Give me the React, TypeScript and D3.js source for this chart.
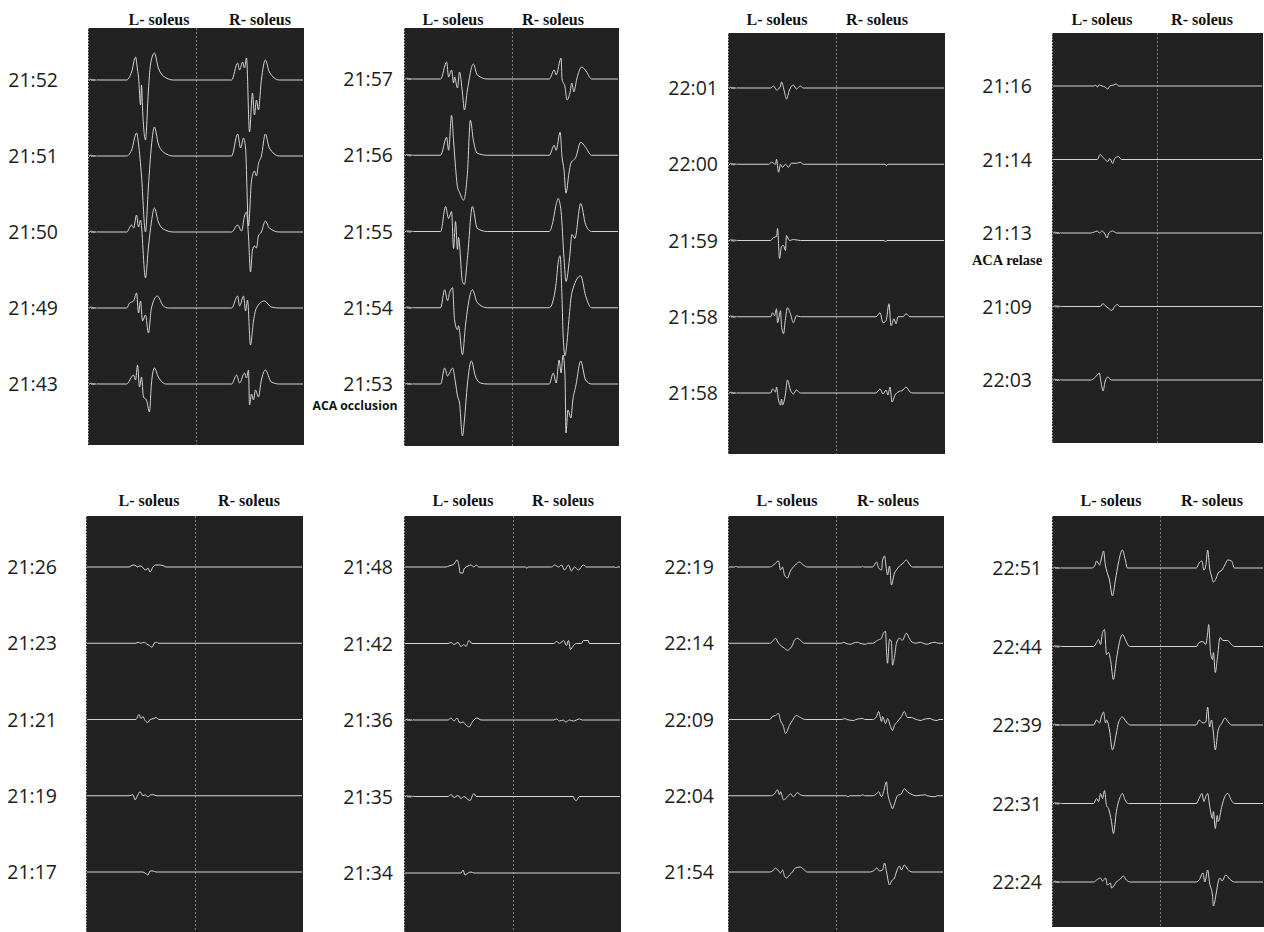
import React from 'react';
import * as d3 from 'd3';

type Pt = [number, number];

// Each half of a panel is one sweep of HALF_MS; amplitudes are in display units (~1px each).
const HALF_MS = 108;
const AMP_MAX = 100;

// small stimulus artefact seen at the very start of many sweeps
const preNoise: Pt[] = [[1, 0], [2, 1.2], [3, -0.8], [4, 1], [5, -1], [6, 0.8], [7, -0.6], [8, 0.4], [9, 0]];

const muscles = ['L- soleus', 'R- soleus'];

// ---- panel 1 ----
const p1Times = ['21:52', '21:51', '21:50', '21:49', '21:43'];
const p1Noise = [true, true, true, true, true];
const p1Left: Pt[][] = [
  [[38, 0], [43, 8], [47, 23], [49, 10], [50, 3], [52, -25], [53, -5], [54, -28], [57, -60], [60, -10], [62, 15], [66, 27], [70, 12], [75, 4], [85, 0]],
  [[38, 0], [43, 6], [48, 23], [50, 12], [53, -20], [57, -76], [60, -30], [63, 10], [66, 29], [70, 12], [75, 4], [85, 0]],
  [[38, 0], [43, 7], [45, 4], [48, 17], [50, 5], [52, 12], [57, -46], [60, -15], [63, 10], [66, 24], [70, 10], [75, 3], [85, 0]],
  [[38, 0], [41, 5], [45, 7], [48, 15], [50, -5], [52, 7], [54, -13], [57, -7], [60, -25], [63, 0], [69, 12], [75, 2], [80, 0]],
  [[38, 0], [45, 9], [47, 4], [49, 19], [51, -3], [53, 7], [55, -13], [58, -16], [61, -28], [63, 0], [66, 16], [70, 7], [78, 0]],
];
const p1Right: Pt[][] = [
  [[36, 0], [42, 17], [44, 10], [47, 18], [49, 12], [51, 22], [54, -52], [57, -13], [59, -35], [61, -20], [63, -30], [66, 0], [70, 20], [74, 8], [84, 0]],
  [[36, 0], [42, 22], [45, 8], [48, 18], [50, 8], [53, -70], [56, -25], [59, -15], [61, -20], [63, -8], [66, 0], [70, 22], [74, 8], [84, 0]],
  [[36, 0], [42, 7], [46, 1], [49, 16], [51, 20], [53, -5], [55, -40], [57, -18], [59, -14], [61, -16], [63, -4], [66, 0], [70, 11], [74, 4], [84, 0]],
  [[36, 0], [42, 12], [44, 2], [48, 12], [50, -3], [52, 8], [55, -37], [58, -13], [61, 0], [69, 7], [76, 1], [84, 0]],
  [[36, 0], [41, 9], [44, 1], [49, 11], [51, 6], [53, 14], [54, -21], [56, -10], [58, -16], [60, -6], [63, -13], [66, 4], [70, 14], [76, 2], [84, 0]],
];

// ---- panel 2 ----
const p2Times = ['21:57', '21:56', '21:55', '21:54', '21:53'];
const p2Noise = [true, true, true, true, true];
const p2Left: Pt[][] = [
  [[36, 0], [42, 17], [44, 2], [47, 9], [49, -4], [50, 2], [53, -9], [55, 7], [58, -14], [60, -31], [63, -11], [69, 15], [73, 4], [83, 0]],
  [[36, 0], [42, 18], [44, 5], [47, 40], [49, 15], [51, -12], [53, -32], [55, -37], [57, -42], [59, -45], [63, -18], [66, 35], [69, 15], [73, 2], [83, 0]],
  [[36, 0], [41, 25], [44, 13], [47, 20], [49, -17], [51, 10], [53, -18], [54, -6], [58, -50], [60, -53], [63, -27], [68, 25], [73, 3], [83, 0]],
  [[36, 0], [40, 18], [43, 7], [45, 15], [48, 20], [50, -12], [53, -22], [54, -18], [58, -47], [61, -18], [68, 18], [73, 5], [83, 0]],
  [[36, 0], [40, 16], [43, 8], [45, 11], [48, 16], [51, 1], [53, -12], [55, -19], [58, -52], [60, -36], [63, 0], [67, 23], [71, 8], [76, 1], [83, 0]],
];
const p2Right: Pt[][] = [
  [[38, 0], [43, 9], [45, 4], [50, 21], [51, 0], [54, -8], [56, -21], [59, -14], [61, -4], [63, -13], [66, 0], [71, 12], [76, 7], [81, 0]],
  [[38, 0], [43, 10], [45, 5], [49, 23], [51, -2], [53, -15], [55, -38], [58, -18], [60, -8], [65, -2], [70, 13], [75, 8], [81, 0]],
  [[38, 0], [41, 7], [45, 27], [47, 33], [50, 20], [53, -27], [55, -50], [59, -23], [61, -3], [64, -7], [70, 28], [75, 7], [81, 0]],
  [[38, 0], [43, 12], [45, 25], [47, 45], [49, 52], [51, 8], [52, -25], [54, -48], [56, -35], [58, -12], [61, 15], [70, 32], [75, 12], [81, 0]],
  [[38, 0], [42, 11], [45, 1], [48, 24], [50, 11], [52, 29], [54, 8], [55, -49], [57, -26], [60, -34], [62, -16], [65, -2], [70, 23], [75, 4], [81, 0]],
];

// ---- panel 3 ----
const p3Times = ['22:01', '22:00', '21:59', '21:58', '21:58'];
const p3Noise = [true, true, true, true, true];
const p3Left: Pt[][] = [
  [[42, 0], [45, 2], [48, -2], [52, 2], [53, 6], [56, -4], [58, -11], [61, -2], [65, 3], [68, -1], [72, 2], [75, 0]],
  [[40, 0], [43, 2], [47, 0], [48, 5], [50, -8], [52, 0], [54, -3], [57, 0], [60, -3], [63, 1], [68, 1], [72, 2], [75, 0]],
  [[42, 0], [45, 3], [48, 4], [49, 12], [51, -18], [53, -6], [55, -5], [57, -10], [58, 5], [61, 0], [65, 1], [72, 0]],
  [[42, 0], [44, 4], [46, 1], [48, 8], [49, -6], [52, 6], [53, -9], [55, -17], [57, -2], [59, 9], [62, 3], [65, -6], [68, 1], [72, 0]],
  [[42, 0], [44, 4], [47, 1], [48, 6], [50, -7], [52, -12], [53, -6], [54, -12], [57, -1], [59, 13], [62, 3], [65, -1], [68, 3], [72, 0]],
];
const p3Right: Pt[][] = [
  [],
  [[49, 0], [50.5, -1.5], [52, 0]],
  [[48, 0], [49.5, -1], [51, 0]],
  [[40, 0], [44, 4], [47, -6], [50, -4], [53, 13], [55, -9], [58, -2], [60, -7], [62, 0], [67, 0], [70, 3], [74, 0]],
  [[40, 0], [44, 4], [47, -1], [50, 3], [52, -2], [54, 6], [56, -9], [59, -2], [62, 1], [67, 3], [70, 6], [74, 1], [77, 0]],
];

// ---- panel 4 ----
const p4Times = ['21:16', '21:14', '21:13', '21:09', '22:03'];
const p4Noise = [false, false, true, true, true];
const p4Left: Pt[][] = [
  [[43, 0], [44, 1], [46, -1], [48, 1], [51, 0], [54, -1], [57, -3], [59, 0], [63, 1], [66, 2], [68, 0]],
  [[46, 0], [49, 5], [52, 2], [54, 0], [57, -2], [59, 1], [62, -4], [64, 1], [68, 3], [71, 0]],
  [[39, 0], [43, 1], [46, 2], [48, 0], [51, 2], [54, -1], [56, -5], [58, 0], [62, 2], [64, 1], [66, 0]],
  [[49, 0], [52, 3], [54, 1], [58, -2], [61, -4], [64, 0], [67, 2], [69, 0]],
  [[39, 0], [43, 2], [46, 5], [48, 7], [50, -3], [52, -11], [54, -2], [57, 3], [59, 1], [61, 0]],
];
const p4Right: Pt[][] = [[], [], [], [], []];

// ---- panel 5 ----
const p5Times = ['21:26', '21:23', '21:21', '21:19', '21:17'];
const p5Noise = [false, false, false, false, false];
const p5Left: Pt[][] = [
  [[42, 0], [46, 2], [47, 2], [51, 0], [52, 1], [54, 1], [57, -2], [59, -3], [61, -1], [63, -5], [66, 0], [69, 2], [73, 2], [77, 1], [79, 0]],
  [[49, 0], [51, 1], [54, 0], [57, 1], [60, -1], [62, -2], [65, -4], [67, 0], [70, 1], [71, 0]],
  [[49, 0], [52, 5], [54, 1], [56, 3], [58, -1], [61, -3], [63, 0], [67, 1], [69, 2], [72, 0]],
  [[42, 0], [46, 1], [48, -4], [51, 1], [53, 4], [56, 0], [58, 1], [61, -1], [64, 1], [67, 1], [69, 0]],
  [[56, 0], [58, -1], [61, -3], [63, 1], [66, 1], [69, 0]],
];
const p5Right: Pt[][] = [[], [], [], [], []];

// ---- panel 6 ----
const p6Times = ['21:48', '21:42', '21:36', '21:35', '21:34'];
const p6Noise = [false, false, true, true, false];
const p6Left: Pt[][] = [
  [[41, 0], [44, 1], [47, 2], [49, 3], [52, 7], [54, 1], [55, -6], [58, -6], [59, -2], [63, 1], [66, 2], [69, 0], [71, 2], [74, 0]],
  [[43, 0], [46, 1], [49, -1], [53, 1], [56, -3], [59, -1], [61, -3], [64, 3], [67, 0], [69, 0]],
  [[43, 0], [46, 2], [49, -1], [52, 2], [55, -3], [58, -2], [61, -5], [64, -7], [68, -1], [72, 2], [76, 0]],
  [[43, 0], [46, 2], [49, -1], [53, 1], [56, -2], [59, 0], [63, -3], [65, -4], [68, 2], [69, 3], [71, 0]],
  [[56, 0], [58, 3], [60, -2], [63, 0], [66, 1], [69, 0]],
];
const p6Right: Pt[][] = [
  [[13, 0], [14, -1.5], [15, 0], [39, 0], [42, 2], [46, 0], [49, 2], [52, -3], [56, 2], [59, -4], [62, 0], [66, -3], [71, 2], [74, 0], [103, 0], [104, -1], [105, 0]],
  [[41, 0], [44, 2], [47, 0], [51, 3], [54, -2], [56, 3], [58, -6], [61, -2], [64, 0], [69, 0], [71, 3], [76, 3], [77, 0]],
  [[41, 0], [44, 1], [47, -1], [51, 0], [53, -2], [57, 0], [61, -1], [64, 0], [67, 1], [70, 0]],
  [[61, 0], [62, -3], [64, -4], [66, -1], [67, 0]],
  [],
];

// ---- panel 7 ----
const p7Times = ['22:19', '22:14', '22:09', '22:04', '21:54'];
const p7Noise = [false, false, false, false, false];
const p7Left: Pt[][] = [
  [[6, 0], [7, 1], [8, 0], [41, 0], [45, 2], [47, 4], [50, 6], [52, -3], [54, 0], [56, -8], [59, -11], [62, -4], [64, -1], [67, 2], [71, 5], [75, 2], [79, 0]],
  [[41, 0], [44, 2], [47, 5], [50, 0], [52, -2], [56, -5], [59, -7], [62, -5], [64, -2], [66, 3], [69, 5], [72, 3], [76, 0]],
  [[41, 0], [44, 3], [47, 4], [50, 6], [52, -1], [55, -7], [57, -14], [61, -6], [64, -1], [68, 4], [72, 2], [77, 0]],
  [[42, 0], [46, 2], [49, 6], [51, 1], [52, 4], [55, -4], [57, -3], [60, 0], [62, 2], [65, -1], [69, 3], [72, 1], [76, 0]],
  [[41, 0], [44, 1], [47, 4], [50, 1], [52, -1], [54, 2], [56, -4], [58, -6], [61, -3], [64, 0], [67, 4], [72, 5], [76, 2], [79, 0]],
];
const p7Right: Pt[][] = [
  [[26, 0], [27, 0.8], [28, 0], [37, 0], [41, 5], [43, -1], [46, -3], [47, 7], [49, 11], [51, -3], [52, -8], [54, 1], [56, -18], [59, -6], [61, -3], [64, 1], [67, 3], [71, 7], [74, 3], [77, 0]],
  [[5, 0], [8, 1], [10, 0], [15, -1], [17, 0], [22, 1], [24, 0], [30, -1], [32, 0], [37, 0], [42, 3], [46, 5], [47, 8], [50, 12], [51, -8], [52, -20], [54, 4], [56, 1], [57, -22], [59, -14], [61, 0], [64, 5], [67, 3], [71, 10], [74, 5], [77, 1], [81, 0], [85, 1], [88, 0], [92, -1], [95, 0], [100, 1], [103, 0]],
  [[6, 0], [9, 1], [11, 0], [18, -1], [20, 0], [27, 1], [29, 0], [37, 0], [41, 3], [43, 8], [46, -2], [47, 3], [50, -4], [52, 1], [55, -7], [57, -11], [59, -6], [62, -2], [66, 3], [69, 8], [72, 2], [76, 2], [81, 0], [86, -1], [88, 0], [95, 1], [97, 0], [102, -1], [104, 0]],
  [[10, 0], [12, -1], [14, 0], [25, 0], [27, 1], [29, 0], [37, 0], [41, 2], [43, 4], [46, -1], [48, 4], [51, 14], [52, 4], [55, -8], [57, -13], [59, -8], [62, 0], [66, 2], [69, 7], [72, 4], [77, 1], [81, 0], [90, 1], [92, 0], [100, -1], [102, 0]],
  [[34, 0], [39, 2], [41, 4], [44, 1], [47, 2], [49, 9], [51, 0], [54, -13], [56, -9], [59, -6], [61, 0], [64, 6], [66, 2], [69, 7], [72, 3], [77, 0]],
];

// ---- panel 8 ----
const p8Times = ['22:51', '22:44', '22:39', '22:31', '22:24'];
const p8Noise = [true, true, true, true, true];
const p8Left: Pt[][] = [
  [[39, 0], [42, 2], [44, 7], [47, 3], [49, 10], [51, 17], [53, 2], [54, -2], [57, -12], [60, -28], [63, -12], [66, 5], [70, 18], [73, 8], [75, 0]],
  [[41, 0], [44, 4], [46, 7], [48, 2], [50, 14], [52, 17], [54, -8], [56, -6], [58, -13], [61, -33], [64, -13], [67, 4], [70, 12], [73, 7], [76, 1], [78, 0]],
  [[41, 0], [44, 5], [47, 2], [49, 9], [51, 13], [53, 2], [54, 5], [57, -5], [60, -25], [64, -8], [66, 2], [70, 8], [74, 3], [78, 0]],
  [[41, 0], [44, 5], [46, 2], [48, 10], [50, 5], [52, 13], [54, -2], [56, -5], [59, -18], [61, -30], [64, -8], [68, 7], [70, 10], [73, 3], [76, 0]],
  [[41, 0], [44, 2], [48, 4], [50, 1], [53, 4], [55, -3], [58, -1], [59, -6], [62, -3], [64, 0], [68, 3], [71, 6], [74, 2], [78, 0]],
];
const p8Right: Pt[][] = [
  [[38, 0], [41, 5], [44, 7], [46, -2], [48, 2], [50, 18], [52, 0], [54, -8], [56, -14], [59, -10], [61, -5], [65, -2], [68, 3], [71, 8], [75, 7], [78, 0]],
  [[38, 0], [41, 4], [45, 5], [48, 2], [50, 14], [51, 22], [53, -6], [55, -13], [56, -6], [58, -26], [60, -13], [63, 9], [66, 6], [71, 6], [74, 3], [78, 0]],
  [[38, 0], [41, 5], [45, 2], [48, 3], [50, 18], [52, -2], [54, 5], [56, -8], [58, -25], [61, -5], [65, 2], [68, 7], [70, 5], [75, 0]],
  [[38, 0], [41, 5], [44, 10], [46, 2], [48, 7], [50, 10], [52, -2], [55, -15], [56, -8], [58, -25], [60, -12], [61, -18], [65, -2], [68, 7], [71, 10], [75, 3], [78, 0]],
  [[38, 0], [41, 2], [45, 9], [47, 0], [50, 12], [52, -1], [55, -13], [56, -24], [59, -11], [61, 0], [63, 4], [65, 1], [69, 7], [73, 3], [78, 0]],
];

// panel frames on the page (layout only)
const layout = [
  { x0: 88, x1: 304, div: 196, y0: 28, y1: 445, b0: 80, b1: 384, labelX: 58, hdrY: 25, hdrL: 159, hdrR: 260 },
  { x0: 404, x1: 619, div: 512, y0: 28, y1: 446, b0: 79, b1: 384, labelX: 393, hdrY: 25, hdrL: 453, hdrR: 553 },
  { x0: 728, x1: 945, div: 836, y0: 33, y1: 454, b0: 88, b1: 393, labelX: 718, hdrY: 25, hdrL: 777, hdrR: 877 },
  { x0: 1052, x1: 1263, div: 1157, y0: 33, y1: 443, b0: 86, b1: 380, labelX: 1032, hdrY: 25, hdrL: 1102, hdrR: 1202 },
  { x0: 86, x1: 303, div: 195, y0: 516, y1: 932, b0: 567, b1: 872, labelX: 57, hdrY: 506, hdrL: 149, hdrR: 249 },
  { x0: 404, x1: 621, div: 513, y0: 516, y1: 932, b0: 567, b1: 873, labelX: 393, hdrY: 506, hdrL: 463, hdrR: 563 },
  { x0: 728, x1: 944, div: 836, y0: 516, y1: 932, b0: 567, b1: 872, labelX: 714, hdrY: 506, hdrL: 787, hdrR: 888 },
  { x0: 1052, x1: 1264, div: 1160, y0: 516, y1: 927, b0: 568, b1: 882, labelX: 1042, hdrY: 506, hdrL: 1111, hdrR: 1212 },
];

const panels = [
  { times: p1Times, noise: p1Noise, left: p1Left, right: p1Right },
  { times: p2Times, noise: p2Noise, left: p2Left, right: p2Right },
  { times: p3Times, noise: p3Noise, left: p3Left, right: p3Right },
  { times: p4Times, noise: p4Noise, left: p4Left, right: p4Right },
  { times: p5Times, noise: p5Noise, left: p5Left, right: p5Right },
  { times: p6Times, noise: p6Noise, left: p6Left, right: p6Right },
  { times: p7Times, noise: p7Noise, left: p7Left, right: p7Right },
  { times: p8Times, noise: p8Noise, left: p8Left, right: p8Right },
];

const BG = '#222222';
const TRACE = '#d4d4d4';
const labelFont = '"Open Sans", "Noto Sans", sans-serif';
const headFont = '"Liberation Serif", "Times New Roman", serif';

function Panel({ idx }: { idx: number }) {
  const p = panels[idx];
  const g = layout[idx];

  const xL = d3.scaleLinear().domain([0, HALF_MS]).range([g.x0 + 1, g.div]);
  const xR = d3.scaleLinear().domain([0, HALF_MS]).range([g.div, g.x1 - 1]);
  const rowY = d3.scalePoint<number>().domain(d3.range(p.times.length)).range([g.b0, g.b1]);
  const amp = d3.scaleLinear().domain([-AMP_MAX, AMP_MAX]).range([AMP_MAX, -AMP_MAX]);

  const line = d3
    .line<Pt>()
    .x((d) => d[0])
    .y((d) => d[1])
    .curve(d3.curveMonotoneX);

  return (
    <g>
      <rect x={g.x0} y={g.y0} width={g.x1 - g.x0} height={g.y1 - g.y0} fill={BG} />
      <line x1={g.x0 + 0.5} x2={g.x0 + 0.5} y1={g.y0} y2={g.y1} stroke="#9a9a9a" strokeWidth={1} strokeDasharray="1.5 1.5" />
      <line x1={g.div + 0.5} x2={g.div + 0.5} y1={g.y0} y2={g.y1} stroke="#7c7c7c" strokeWidth={1} strokeDasharray="2 2" />

      <text x={g.hdrL} y={g.hdrY} textAnchor="middle" fontFamily={headFont} fontWeight="bold" fontSize={16} fill="#111">
        {muscles[0]}
      </text>
      <text x={g.hdrR} y={g.hdrY} textAnchor="middle" fontFamily={headFont} fontWeight="bold" fontSize={16} fill="#111">
        {muscles[1]}
      </text>

      {p.times.map((t, i) => {
        const base = rowY(i) as number;
        const pts: Pt[] = [[xL(0), base]];
        if (p.noise[i]) preNoise.forEach(([tm, v]) => pts.push([xL(tm), base + amp(v)]));
        p.left[i].forEach(([tm, v]) => pts.push([xL(tm), base + amp(v)]));
        p.right[i].forEach(([tm, v]) => pts.push([xR(tm), base + amp(v)]));
        pts.push([xR(HALF_MS), base]);
        return (
          <g key={i}>
            <path d={line(pts) || ''} fill="none" stroke={TRACE} strokeWidth={1} strokeLinejoin="round" />
            <text
              x={g.labelX}
              y={base}
              dy="0.36em"
              textAnchor="end"
              fontFamily={labelFont}
              fontSize={19.5}
              fill="#1c1c1c"
            >
              {t}
            </text>
          </g>
        );
      })}
    </g>
  );
}

export default function App() {
  return (
    <svg
      width={1264}
      height={932}
      viewBox="0 0 1264 932"
      style={{ position: 'absolute', left: 0, top: 0, background: '#fff' }}
    >
      {panels.map((_, i) => (
        <Panel key={i} idx={i} />
      ))}
      <text x={355} y={406} dy="0.36em" textAnchor="middle" fontFamily={labelFont} fontWeight="bold" fontSize={12.2} fill="#111">
        ACA occlusion
      </text>
      <text x={1007} y={260} dy="0.36em" textAnchor="middle" fontFamily={headFont} fontWeight="bold" fontSize={14.5} fill="#111">
        ACA relase
      </text>
    </svg>
  );
}
